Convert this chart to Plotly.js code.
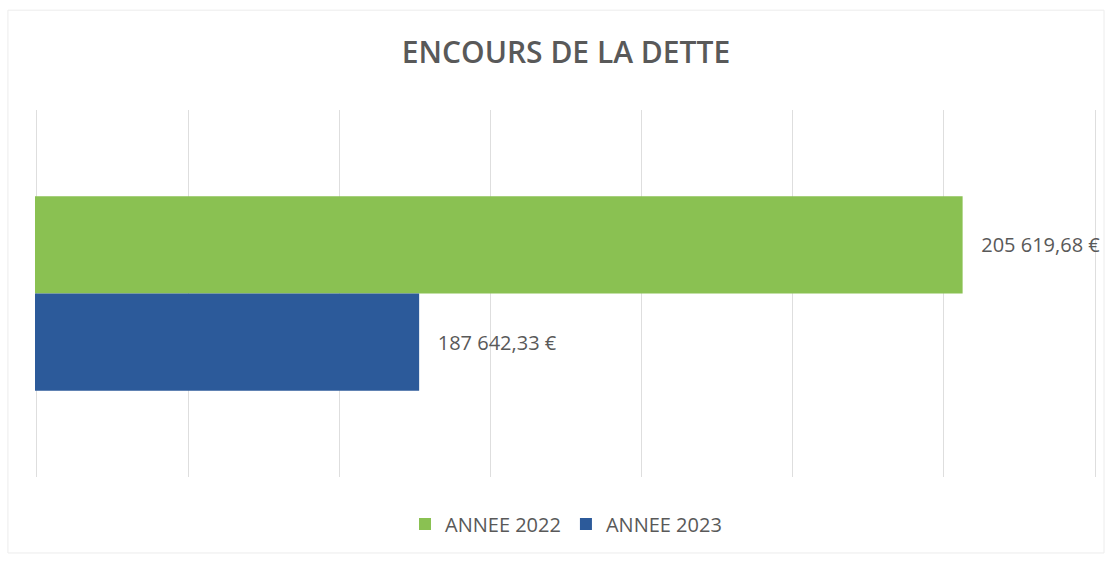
<!DOCTYPE html>
<html>
<head>
<meta charset="utf-8">
<script src="https://cdn.plot.ly/plotly-3.0.1.min.js"></script>
<style>html,body{margin:0;padding:0;background:#fff;}#chart{width:1112px;height:562px;}</style>
</head>
<body>
<div id="chart"></div>
<script>
const categories = ['ENCOURS DE LA DETTE'];
const seriesNames = ['ANNEE 2022', 'ANNEE 2023'];
const values2022 = [205619.68];
const values2023 = [187642.33];
const seriesColors = ['#8AC152', '#2C5A9A'];

const pad = '\u00a0\u00a0\u00a0';
const labelFont = {family: 'Open Sans, sans-serif', size: 20, color: '#595959'};

const traces = [
  {type: 'bar', orientation: 'h', name: seriesNames[0], y: categories, x: values2022,
   marker: {color: seriesColors[0]}, texttemplate: pad + '%{x:,.2f} €', textposition: 'outside',
   textfont: labelFont, cliponaxis: false, hoverinfo: 'x+name'},
  {type: 'bar', orientation: 'h', name: seriesNames[1], y: categories, x: values2023,
   marker: {color: seriesColors[1]}, texttemplate: pad + '%{x:,.2f} €', textposition: 'outside',
   textfont: labelFont, cliponaxis: false, hoverinfo: 'x+name'}
];

const layout = {
  width: 1112, height: 562,
  margin: {l: 35, r: 15, t: 110, b: 85},
  paper_bgcolor: '#ffffff', plot_bgcolor: '#ffffff',
  separators: ', ',
  font: {family: 'Open Sans, sans-serif', color: '#595959'},
  title: {text: 'ENCOURS DE LA DETTE', x: 0.5, xref: 'paper', xanchor: 'center',
          y: 1 - 52/562, yanchor: 'middle',
          font: {family: 'Open Sans, sans-serif', size: 30, weight: 600, color: '#595959'}},
  barmode: 'group', bargap: 0.47, bargroupgap: 0,
  xaxis: {range: [174935, 210065], tick0: 175000, dtick: 5000, showticklabels: false,
          showgrid: true, gridcolor: '#dedede', gridwidth: 1, zeroline: false, showline: false, ticks: ''},
  yaxis: {range: [0.5, -0.5], showticklabels: false, showgrid: false, zeroline: false, showline: false, ticks: ''},
  showlegend: true,
  legend: {orientation: 'h', x: 0.5, xanchor: 'center', y: -(524-477)/367, yanchor: 'middle',
           font: {family: 'Open Sans, sans-serif', size: 20, color: '#595959'}, itemwidth: 30},
  shapes: [{type: 'rect', xref: 'paper', yref: 'paper', x0: -0.0255, x1: 1.0066, y0: -0.207, y1: 1.272,
            line: {color: '#ececec', width: 1}, fillcolor: 'rgba(0,0,0,0)', layer: 'below'}]
};

Plotly.newPlot('chart', traces, layout, {displayModeBar: false, staticPlot: true});
</script>
</body>
</html>
